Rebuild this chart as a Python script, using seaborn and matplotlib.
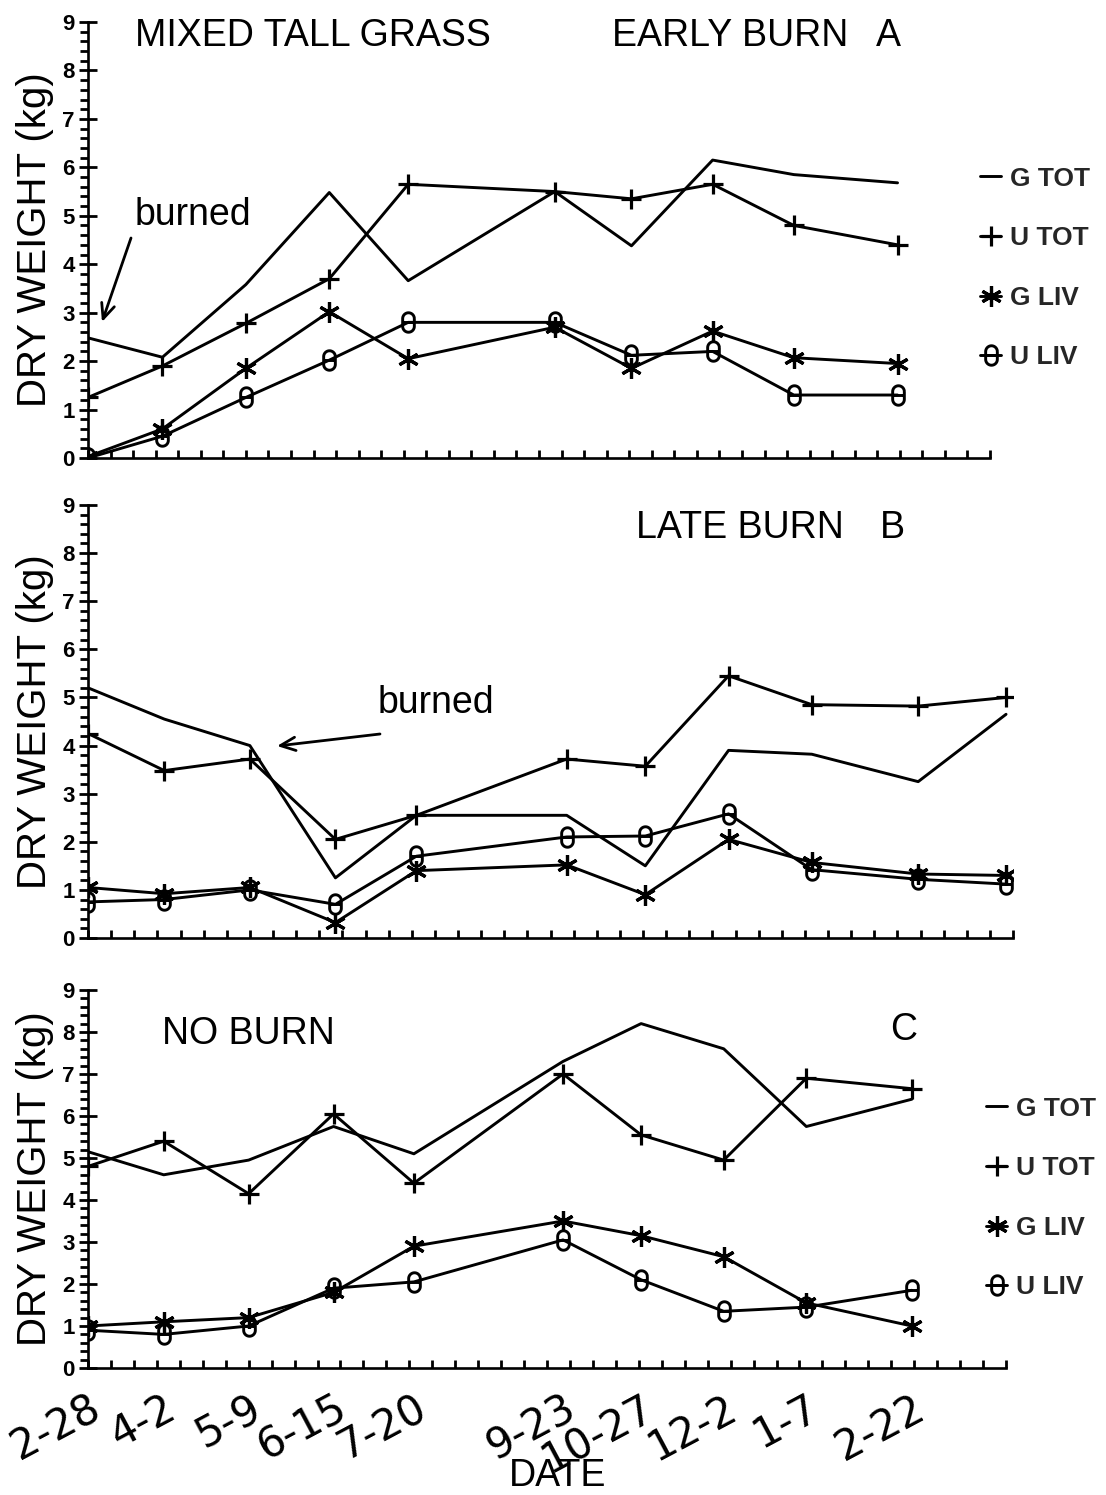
import numpy as np
import pandas as pd
import matplotlib
matplotlib.use("Agg")
import matplotlib.pyplot as plt
from matplotlib.path import Path
from matplotlib.ticker import MultipleLocator
import seaborn as sns

# ---------------- data ----------------
date_labels = ["2-28", "4-2", "5-9", "6-15", "7-20", "9-23", "10-27", "12-2", "1-7", "2-22"]
days_ac = [0, 33, 70, 107, 142, 207, 241, 277, 313, 359]
days_b = [0, 33, 70, 107, 142, 207, 241, 277, 313, 359, 397]
series_names = ["G TOT", "U TOT", "G LIV", "U LIV"]
y_tick_labels = ["0", "1", "2", "3", "4", "5", "6", "7", "8", "9"]

a_g_tot = [2.48, 2.08, 3.58, 5.48, 3.66, 5.50, 4.38, 6.15, 5.85, 5.68]
a_u_tot = [1.25, 1.90, 2.78, 3.70, 5.65, 5.50, 5.35, 5.65, 4.80, 4.40]
a_g_liv = [0.03, 0.60, 1.85, 3.02, 2.05, 2.70, 1.85, 2.62, 2.07, 1.95]
a_u_liv = [0.00, 0.45, 1.25, 2.02, 2.80, 2.80, 2.12, 2.20, 1.30, 1.30]

b_g_tot = [5.20, 4.55, 4.00, 1.25, 2.55, 2.55, 1.50, 3.90, 3.82, 3.25, 4.65]
b_u_tot = [4.25, 3.48, 3.72, 2.05, 2.55, 3.72, 3.57, 5.45, 4.85, 4.82, 5.00]
b_g_liv = [1.05, 0.92, 1.05, 0.32, 1.40, 1.52, 0.90, 2.05, 1.57, 1.33, 1.30]
b_u_liv = [0.75, 0.80, 1.00, 0.70, 1.70, 2.10, 2.12, 2.58, 1.42, 1.22, 1.12]

c_g_tot = [5.15, 4.60, 4.95, 5.75, 5.10, 7.30, 8.20, 7.60, 5.75, 6.40]
c_u_tot = [4.80, 5.40, 4.15, 6.05, 4.40, 7.00, 5.55, 4.95, 6.90, 6.65]
c_g_liv = [1.00, 1.10, 1.20, 1.80, 2.90, 3.50, 3.15, 2.65, 1.55, 1.00]
c_u_liv = [0.90, 0.80, 1.00, 1.90, 2.05, 3.05, 2.10, 1.35, 1.45, 1.85]

# ---------------- style ----------------
sns.set_theme(style="ticks")
plt.rcParams["font.family"] = ["Liberation Sans", "DejaVu Sans"]
plt.rcParams["axes.linewidth"] = 1.9
plt.rcParams["axes.edgecolor"] = "black"

W, H = 1106, 1495
fig = plt.figure(figsize=(W / 100, H / 100), dpi=100)
fig.patch.set_facecolor("white")


def px_rect(left, right, top, bottom):
    return [left / W, 1 - bottom / H, (right - left) / W, (bottom - top) / H]


def fx(x):
    return x / W


def fy(y):
    return 1 - y / H


# theta-like marker (tall stadium with a mid bar)
t = np.linspace(0, np.pi, 25)
top_arc = np.column_stack([0.3 * np.cos(t), 0.2 + 0.3 * np.sin(t)])
bot_arc = np.column_stack([0.3 * np.cos(t + np.pi), -0.2 + 0.3 * np.sin(t + np.pi)])
outline = np.vstack([top_arc, bot_arc, top_arc[:1]])
verts = np.vstack([outline, [[-0.3, 0.0], [0.3, 0.0]]])
codes = [Path.MOVETO] + [Path.LINETO] * (len(outline) - 1) + [Path.MOVETO, Path.LINETO]
theta_marker = Path(verts, codes)

marker_styles = {
    "G TOT": dict(),
    "U TOT": dict(marker="+", markersize=15, markeredgewidth=2.3, markeredgecolor="black"),
    "G LIV": dict(marker=(6, 2, 0), markersize=15, markeredgewidth=2.3, markeredgecolor="black"),
    "U LIV": dict(marker=theta_marker, markersize=14, markeredgewidth=2.1,
                  markeredgecolor="black", markerfacecolor="none"),
}

panels = [
    dict(rect=px_rect(88, 990, 22, 458), days=days_ac,
         data=[a_g_tot, a_u_tot, a_g_liv, a_u_liv]),
    dict(rect=px_rect(88, 1013, 505, 938), days=days_b,
         data=[b_g_tot, b_u_tot, b_g_liv, b_u_liv]),
    dict(rect=px_rect(88, 1006, 990, 1368), days=days_ac,
         data=[c_g_tot, c_u_tot, c_g_liv, c_u_liv]),
]

axes = []
handles_all = []
for p in panels:
    ax = fig.add_axes(p["rect"])
    handles = []
    for name, vals in zip(series_names, p["data"]):
        df = pd.DataFrame({"day": p["days"], "weight": vals})
        sns.lineplot(data=df, x="day", y="weight", ax=ax, color="black", linewidth=2.1,
                     sort=False, estimator=None, legend=False, **marker_styles[name])
        handles.append(ax.lines[-1])
    handles_all.append(handles)
    ax.set_xlim(0, 400)
    ax.set_ylim(0, 9)
    sns.despine(ax=ax)
    ax.set_facecolor("white")
    ax.grid(False)
    # y ticks
    ax.set_yticks(range(10), labels=y_tick_labels, fontsize=16, fontweight="bold")
    ax.yaxis.set_minor_locator(MultipleLocator(0.2))
    ax.tick_params(axis="y", which="major", direction="inout", length=13, width=2,
                   pad=3.0, color="black", labelcolor="black")
    ax.tick_params(axis="y", which="minor", direction="out", length=6, width=2, color="black")
    # x ticks
    ax.xaxis.set_minor_locator(MultipleLocator(10))
    ax.xaxis.remove_overlapping_locs = False
    ax.tick_params(axis="x", which="minor", direction="in", length=6, width=2, color="black")
    ax.set_ylabel("DRY WEIGHT (kg)", fontsize=29, va="center", color="black")
    ax.set_xlabel("")
    axes.append(ax)

for ax, (l, r) in zip(axes, [(88, 990), (88, 1013), (88, 1006)]):
    ax.yaxis.set_label_coords((35 - l) / (r - l), 0.5)

axes[0].set_xticks([])
axes[1].set_xticks([])
axc = axes[2]
axc.set_xticks(days_ac, labels=date_labels, fontsize=30, family="DejaVu Sans",
               rotation=28, ha="right", rotation_mode="anchor")
axc.tick_params(axis="x", which="major", length=0, pad=14, labelcolor="black")
axc.set_xlabel("DATE", fontsize=27, va="center", color="black")
axc.xaxis.set_label_coords((558 - 88) / (1006 - 88), (1368 - 1476) / (1368 - 990))

# ---------------- titles ----------------
tkw = dict(fontsize=27, va="center", ha="left", color="black")
fig.text(fx(135), fy(36), "MIXED TALL GRASS", **tkw)
fig.text(fx(612), fy(36), "EARLY BURN", **tkw)
fig.text(fx(876), fy(36), "A", **tkw)
fig.text(fx(636), fy(528), "LATE BURN", **tkw)
fig.text(fx(880), fy(528), "B", **tkw)
fig.text(fx(162), fy(1034), "NO BURN", **tkw)
fig.text(fx(890), fy(1030), "C", **tkw)

# ---------------- burned annotations ----------------
fig.text(fx(135), fy(215), "burned", fontsize=27, va="center", ha="left", color="black")
fig.text(fx(378), fy(703), "burned", fontsize=27, va="center", ha="left", color="black")
arrow = dict(arrowstyle="->,head_length=0.9,head_width=0.4", lw=2.0, color="black",
             shrinkA=0, shrinkB=0)
axes[0].annotate("", xy=(102, H - 322), xytext=(131, H - 238),
                 xycoords="figure pixels", textcoords="figure pixels", arrowprops=arrow)
axes[1].annotate("", xy=(277, H - 746), xytext=(380, H - 734),
                 xycoords="figure pixels", textcoords="figure pixels", arrowprops=arrow)

# ---------------- legends ----------------
lkw = dict(loc="center left", frameon=False, handlelength=0.8,
           handletextpad=0.35, labelspacing=1.35, borderpad=0, borderaxespad=0,
           prop=dict(size=19, weight="bold"))
fig.legend(handles_all[0], series_names, bbox_to_anchor=(fx(980), fy(268)), **lkw)
fig.legend(handles_all[2], series_names, bbox_to_anchor=(fx(986), fy(1198)), **lkw)

fig.savefig("out.png", dpi=100, facecolor="white")
